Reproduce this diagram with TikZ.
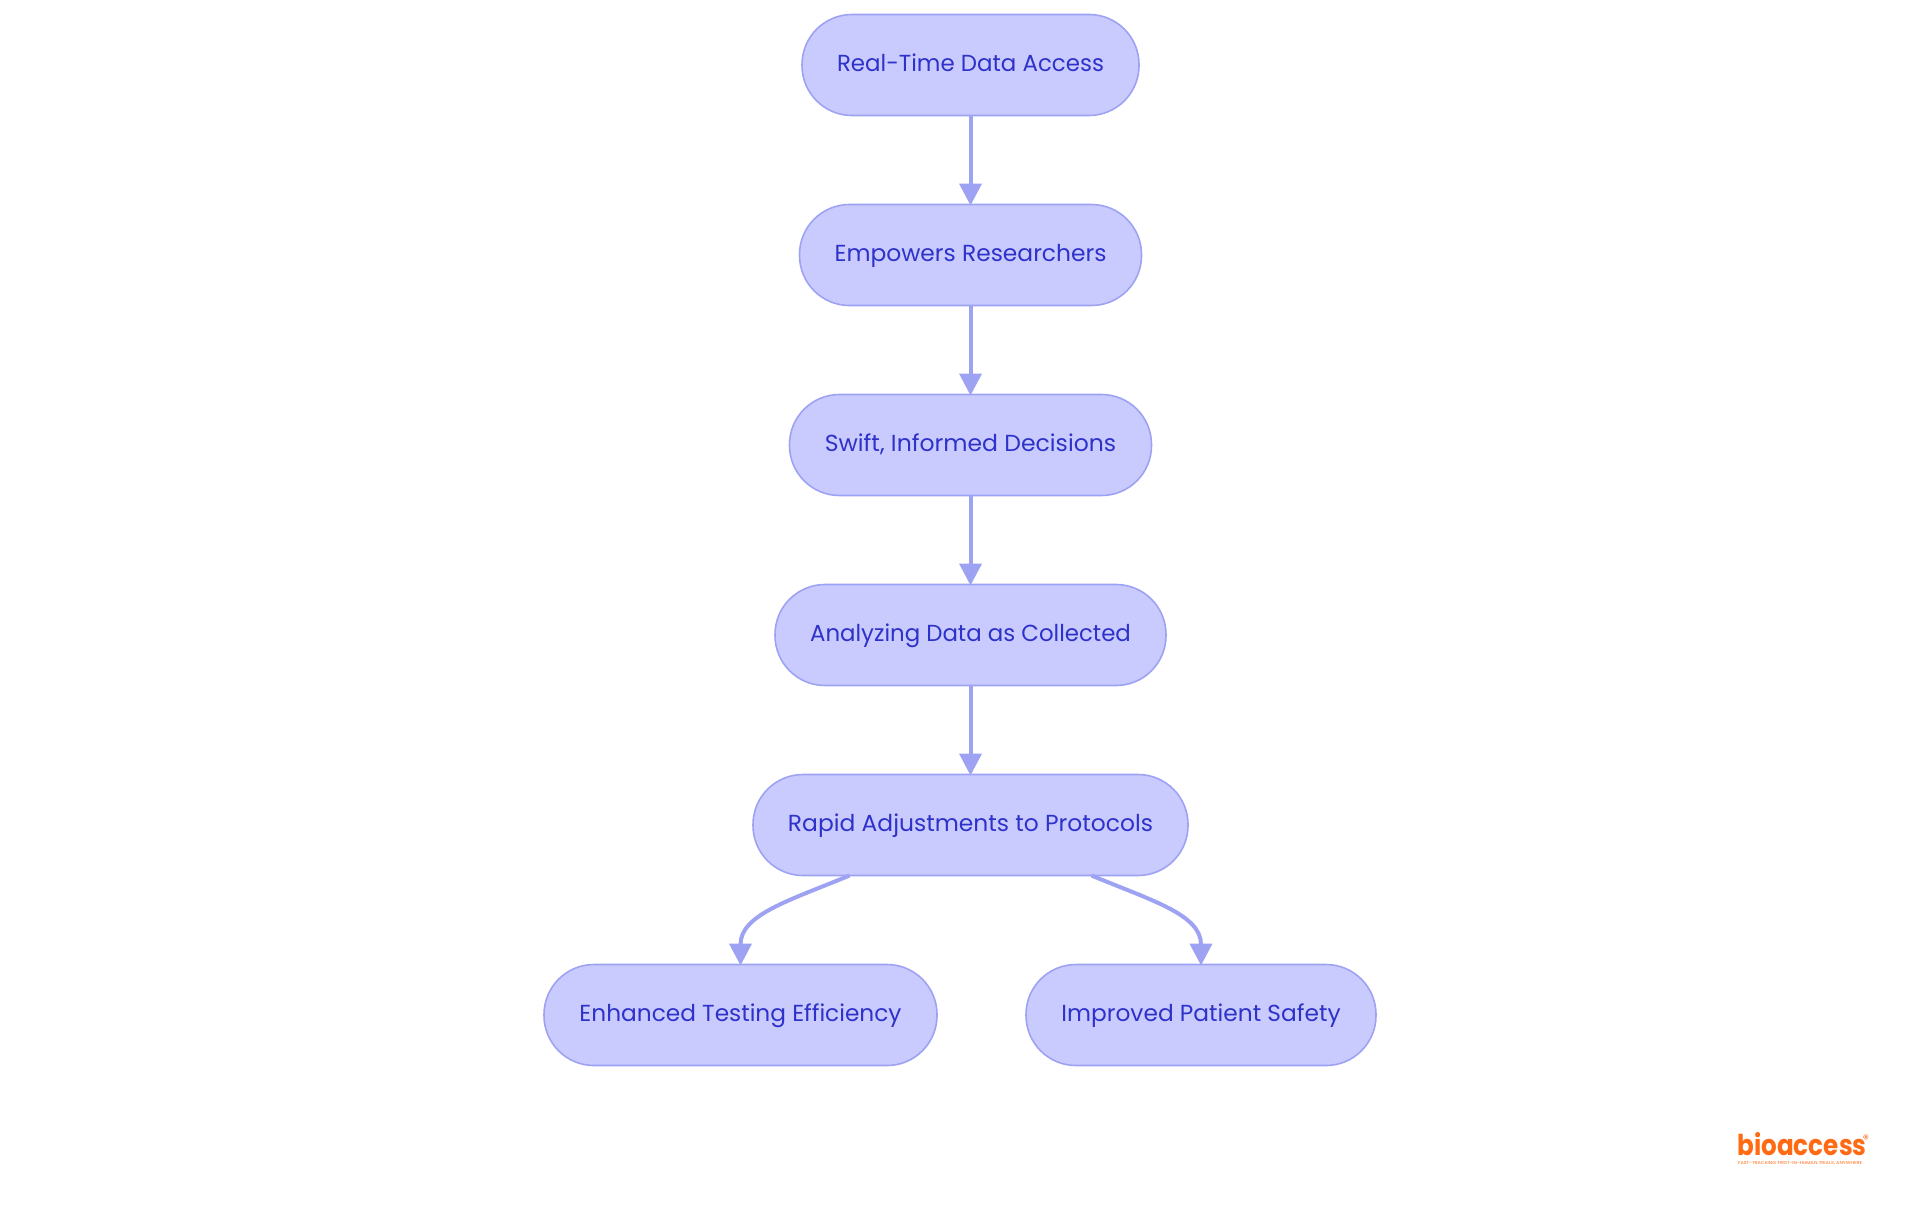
\documentclass[tikz,border=0pt]{standalone}
\usepackage{fontspec}
\usepackage{graphicx}
\setmainfont{Poppins}
\newfontfamily\logofont{Poppins}
\usetikzlibrary{arrows.meta}
\definecolor{pillfill}{HTML}{C9CBFF}
\definecolor{pilledge}{HTML}{9EA2F3}
\definecolor{pilltext}{HTML}{2E32C8}
\definecolor{logoorange}{HTML}{FF6A13}
\newcommand{\fitw}[2]{\resizebox{#1}{\height}{#2}}
\tikzset{
  pill/.style={draw=pilledge,fill=pillfill,line width=0.8pt,rounded corners=25pt,
    minimum height=50.5pt,inner sep=0pt,outer sep=0pt,text=pilltext,
    font=\fontsize{11.6pt}{13pt}\selectfont,text height=7pt,text depth=1pt},
  conn/.style={draw=pilledge,line width=2pt,shorten >=-0.5pt,-{Triangle[length=11pt,width=11pt]}},
}
\begin{document}
\begin{tikzpicture}[x=0.5pt,y=-0.5pt]
\useasboundingbox (0,0) rectangle (1920,1215);
\node[pill,minimum width=168.5pt] (a) at (970.5,65) {\fitw{133.5pt}{Real-Time Data Access}};
\node[pill,minimum width=171pt] (b) at (970.5,255) {\fitw{136pt}{Empowers Researchers}};
\node[pill,minimum width=181pt] (c) at (970.5,445) {\fitw{145.7pt}{Swift, Informed Decisions}};
\node[pill,minimum width=195.5pt] (d) at (970.5,635) {\fitw{160.4pt}{Analyzing Data as Collected}};
\node[pill,minimum width=217.5pt] (e) at (970.5,825) {\fitw{182.5pt}{Rapid Adjustments to Protocols}};
\node[pill,minimum width=196.5pt] (f) at (740.5,1015) {\fitw{161pt}{Enhanced Testing Efficiency}};
\node[pill,minimum width=175pt] (g) at (1201,1015) {\fitw{139.6pt}{Improved Patient Safety}};
\draw[conn] (a) -- (b);
\draw[conn] (b) -- (c);
\draw[conn] (c) -- (d);
\draw[conn] (d) -- (e);
\draw[conn] ([xshift=-60.5pt]e.south) .. controls +(-60,25) and +(0,-50) .. (f.north);
\draw[conn] ([xshift=60.5pt]e.south) .. controls +(60,25) and +(0,-50) .. (g.north);
\node[inner sep=0pt,text=logoorange,font=\logofont\bfseries\fontsize{15pt}{15pt}\selectfont] (logo) at (1802,1144) {\resizebox{64.5pt}{11.5pt}{bioaccess}};
\node[inner sep=0pt,text=logoorange,font=\logofont\fontsize{2pt}{2pt}\selectfont] (tag) at (1800,1163) {\resizebox{62pt}{1.5pt}{FAST-TRACKING FIRST-IN-HUMAN TRIALS, ANYWHERE}};
\node[inner sep=0pt,text=logoorange,font=\logofont\fontsize{6pt}{6pt}\selectfont] (reg) at (1866,1139) {®};
\end{tikzpicture}
\end{document}
